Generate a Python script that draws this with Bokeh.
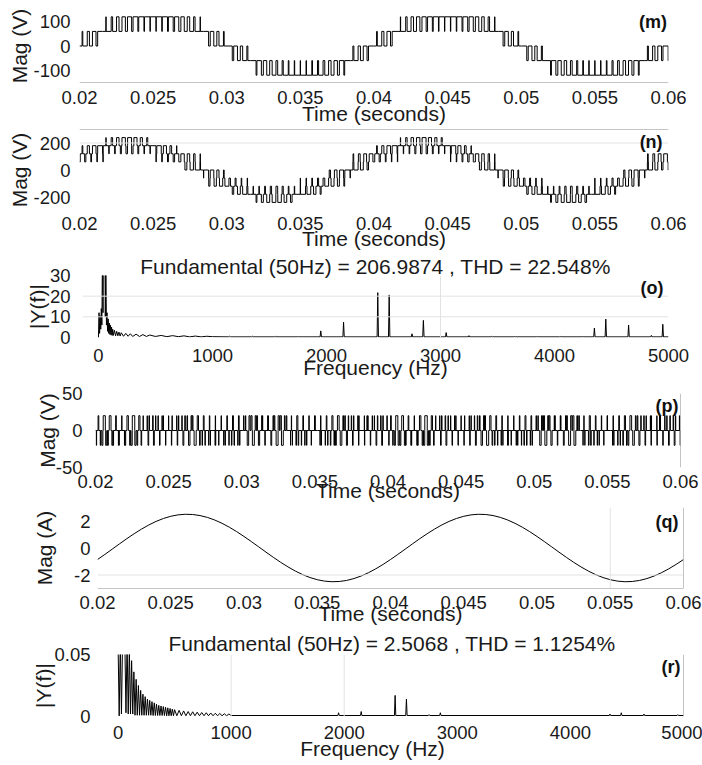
import numpy as np
from bokeh.plotting import figure
from bokeh.layouts import column
from bokeh.models import Span, Label, FixedTicker, Range1d, PrintfTickFormatter
from bokeh.embed import file_html
from bokeh.resources import INLINE

FONT = "Liberation Sans"
TXT = "#1a1a1a"
DARK = "#8a8a8a"
LIGHT = "#e2e2e2"

# ------------------------------------------------------------------ data
time_ticks = [0.02, 0.025, 0.03, 0.035, 0.04, 0.045, 0.05, 0.055, 0.06]
freq_ticks = [0, 1000, 2000, 3000, 4000, 5000]

t_start, t_end = 0.02, 0.06
carrier_period = 0.0004          # 2.5 kHz carrier
cell_voltage = 60.0              # one level step (V)

# per-carrier-period modulation references (in level steps), one 50 Hz cycle
ref_a = [0.122, 0.365, 0.603, 0.830, 1.045, 1.243, 1.422, 1.578, 1.709, 1.813,
         1.889, 1.935, 1.950, 1.935, 1.889, 1.813, 1.709, 1.578, 1.422, 1.243,
         1.045, 0.830, 0.603, 0.365, 0.122, -0.122, -0.365, -0.603, -0.830, -1.045,
         -1.243, -1.422, -1.578, -1.709, -1.813, -1.889, -1.935, -1.950, -1.935, -1.889,
         -1.813, -1.709, -1.578, -1.422, -1.243, -1.045, -0.830, -0.603, -0.365, -0.122]
ref_b = [-1.747, -1.842, -1.907, -1.943, -1.948, -1.923, -1.867, -1.781, -1.668, -1.528,
         -1.364, -1.179, -0.975, -0.756, -0.524, -0.285, -0.041, 0.204, 0.445, 0.680,
         0.903, 1.113, 1.305, 1.476, 1.624, 1.747, 1.842, 1.907, 1.943, 1.948,
         1.923, 1.867, 1.781, 1.668, 1.528, 1.364, 1.179, 0.975, 0.756, 0.524,
         0.285, 0.041, -0.204, -0.445, -0.680, -0.903, -1.113, -1.305, -1.476, -1.624]
ref_c = [1.624, 1.476, 1.305, 1.113, 0.903, 0.680, 0.445, 0.204, -0.041, -0.285,
         -0.524, -0.756, -0.975, -1.179, -1.364, -1.528, -1.668, -1.781, -1.867, -1.923,
         -1.948, -1.943, -1.907, -1.842, -1.747, -1.624, -1.476, -1.305, -1.113, -0.903,
         -0.680, -0.445, -0.204, 0.041, 0.285, 0.524, 0.756, 0.975, 1.179, 1.364,
         1.528, 1.668, 1.781, 1.867, 1.923, 1.948, 1.943, 1.907, 1.842, 1.747]

# load current (A), sampled every 0.5 ms from 0.02 s to 0.06 s
current_a = [-0.855, -0.477, -0.087, 0.305, 0.689, 1.057, 1.398, 1.705, 1.970, 2.187,
             2.349, 2.454, 2.498, 2.481, 2.403, 2.266, 2.073, 1.828, 1.539, 1.212,
             0.855, 0.477, 0.087, -0.305, -0.689, -1.057, -1.398, -1.705, -1.970, -2.187,
             -2.349, -2.454, -2.498, -2.481, -2.403, -2.266, -2.073, -1.828, -1.539, -1.212,
             -0.855, -0.477, -0.087, 0.305, 0.689, 1.057, 1.398, 1.705, 1.970, 2.187,
             2.349, 2.454, 2.498, 2.481, 2.403, 2.266, 2.073, 1.828, 1.539, 1.212,
             0.855, 0.477, 0.087, -0.305, -0.689, -1.057, -1.398, -1.705, -1.970, -2.187,
             -2.349, -2.454, -2.498, -2.481, -2.403, -2.266, -2.073, -1.828, -1.539, -1.212,
             -0.855]
current_t = np.linspace(t_start, t_end, len(current_a))

# voltage spectrum (o): low-frequency region
v_spec_low_f = [0, 5, 10, 15, 20, 25, 30, 35, 40, 45, 50, 55, 60, 65, 70, 75, 80, 85, 90, 95,
                100, 105, 110, 115, 120, 125, 130, 140, 150, 160, 170, 180, 190, 200, 220,
                240, 260, 280, 300, 330, 360, 390, 420, 450, 500, 550, 600, 650, 700, 750,
                800, 850, 900, 950, 1000]
v_spec_low_m = [0, 12.0, 2.0, 10.5, 4.0, 14.0, 6.0, 40.0, 12.0, 60.0, 206.99, 60.0, 10.0, 35.0,
                6.0, 12.0, 3.0, 9.0, 2.0, 7.0, 1.5, 6.0, 1.2, 5.0, 1.0, 4.0, 1.0, 3.5, 0.8,
                3.0, 0.8, 2.6, 0.7, 2.3, 0.6, 2.0, 0.6, 1.8, 0.5, 1.6, 0.5, 1.4, 0.5, 1.2,
                0.5, 1.0, 0.4, 0.9, 0.4, 0.8, 0.3, 0.7, 0.3, 0.6, 0.4]
v_spec_floor = 0.3
v_peak_f = [1150, 1350, 1550, 1750, 1950, 2150, 2450, 2550, 2750, 2850, 3050, 3250, 3450,
            3650, 3850, 4050, 4250, 4350, 4450, 4650, 4850, 4950]
v_peak_m = [0.6, 0.6, 0.6, 0.6, 3.2, 7.4, 21.7, 20.6, 1.8, 8.3, 2.4, 0.9, 0.6,
            0.5, 0.5, 0.5, 0.6, 4.6, 8.9, 6.0, 1.0, 6.4]

# current spectrum (r): low-frequency region
i_spec_low_f = [0, 10, 20, 30, 40, 50, 60, 70, 80, 90, 100, 110, 120, 130, 140, 150, 160, 170,
                180, 190, 200, 210, 220, 230, 240, 250, 260, 270, 280, 290, 300, 310, 320,
                330, 340, 350, 360, 370, 380, 390, 400, 410, 420, 430, 440, 450, 460, 470,
                480, 490, 500, 520, 540, 560, 580, 600, 620, 640, 660, 680, 700, 720, 740,
                760, 780, 800, 820, 840, 860, 880, 900, 920, 940, 960, 980, 1000]
i_spec_low_m = [0.060, 0.0005, 0.060, 0.002, 0.060, 2.5068, 0.060, 0.003, 0.060, 0.002,
                0.055, 0.002, 0.045, 0.002, 0.036, 0.001, 0.030, 0.001, 0.025, 0.001,
                0.021, 0.001, 0.018, 0.001, 0.016, 0.001, 0.014, 0.001, 0.013, 0.001,
                0.012, 0.0008, 0.011, 0.0008, 0.010, 0.0008, 0.009, 0.0008, 0.0085, 0.0008,
                0.008, 0.0008, 0.0075, 0.0006, 0.007, 0.0006, 0.0065, 0.0006, 0.006, 0.0006,
                0.0055, 0.0006, 0.005, 0.0006, 0.0045, 0.0006, 0.004, 0.0006, 0.0038, 0.0006,
                0.0035, 0.0006, 0.0032, 0.0006, 0.003, 0.0006, 0.0028, 0.0006, 0.0026, 0.0006,
                0.0024, 0.0006, 0.0022, 0.0006, 0.002, 0.0008]
i_spec_floor = 0.0008
i_peak_f = [1950, 2150, 2450, 2550, 2750, 2850, 4350, 4450, 4650, 4950]
i_peak_m = [0.003, 0.004, 0.017, 0.014, 0.0015, 0.003, 0.002, 0.003, 0.002, 0.0015]


# ------------------------------------------------------------------ helpers
def switch_times(refs, edge_aligned):
    out = []
    n = int(round((t_end - t_start) / carrier_period))
    for k in range(-2, n + 2):
        r = refs[k % len(refs)]
        f = r - np.floor(r)
        w = (1 - f) if edge_aligned else f
        c = t_start + (k + 0.5) * carrier_period
        out += [c - w * carrier_period / 2, c + w * carrier_period / 2]
    return out


def phase_level(refs, edge_aligned, t):
    u = (t - t_start) / carrier_period
    k = np.floor(u).astype(int)
    pos = u - k
    r = np.asarray(refs)[k % len(refs)]
    b = np.floor(r)
    f = r - b
    if edge_aligned:
        return b + (np.abs(pos - 0.5) > (1 - f) / 2)
    return b + (np.abs(pos - 0.5) < f / 2)


def step_trace(phases, weights):
    times = [t_start, t_end]
    for refs, mode in phases:
        times += switch_times(refs, mode)
    times = np.unique(np.clip(np.array(times), t_start, t_end))
    kept = [times[0]]
    for t in times[1:-1]:
        if t - kept[-1] > 2e-7:
            kept.append(t)
    kept.append(times[-1])
    times = np.array(kept)
    mids = (times[:-1] + times[1:]) / 2
    lev = np.zeros_like(mids)
    for (refs, mode), w in zip(phases, weights):
        lev += w * phase_level(refs, mode, mids)
    xs = np.repeat(times, 2)[1:-1]
    ys = np.repeat(lev, 2)
    return xs, ys


def spectrum_line(low_f, low_m, floor, peak_f, peak_m, hw):
    xs = list(low_f)
    ys = list(low_m)
    for f, m in zip(peak_f, peak_m):
        xs += [f - hw, f, f + hw]
        ys += [floor, m, floor]
    xs.append(5000)
    ys.append(floor)
    return xs, ys


def base_fig(height, left, right, top, bottom, xr, yr, xticks, yticks,
             xs_off, xl_off, ys_off, yl_off, xlabel, ylabel):
    p = figure(width=702, height=height, output_backend="svg", toolbar_location=None,
               x_range=Range1d(*xr), y_range=Range1d(*yr),
               min_border_left=left, min_border_right=right,
               min_border_top=top, min_border_bottom=bottom)
    p.frame_align = False
    p.outline_line_color = None
    p.background_fill_color = "white"
    p.border_fill_color = "white"
    p.xgrid.visible = False
    p.ygrid.visible = False
    for ax, ticks, s, ls, lab in ((p.xaxis[0], xticks, xs_off, xl_off, xlabel),
                                  (p.yaxis[0], yticks, ys_off, yl_off, ylabel)):
        ax.ticker = FixedTicker(ticks=ticks)
        ax.formatter = PrintfTickFormatter(format="%g")
        ax.axis_line_color = None
        ax.major_tick_line_color = None
        ax.minor_tick_line_color = None
        ax.major_tick_in = 0
        ax.major_tick_out = 0
        ax.minor_tick_in = 0
        ax.minor_tick_out = 0
        ax.major_label_standoff = s
        ax.axis_label_standoff = ls
        ax.major_label_text_font = FONT
        ax.major_label_text_font_size = "18.5px"
        ax.major_label_text_color = TXT
        ax.axis_label = lab
        ax.axis_label_text_font = FONT
        ax.axis_label_text_font_size = "21px"
        ax.axis_label_text_font_style = "normal"
        ax.axis_label_text_color = TXT
    return p


def tag(p, x, y, text):
    p.add_layout(Label(x=x, y=y, text=text, text_align="right", text_baseline="middle",
                       text_font=FONT, text_font_size="18px", text_font_style="bold",
                       text_color="#111111"))


def hline(p, y, color):
    p.add_layout(Span(location=y, dimension="width", line_color=color, line_width=1))


def vline(p, x, color):
    p.add_layout(Span(location=x, dimension="height", line_color=color, line_width=1))


def set_title(p, text, standoff, align="center", offset=0):
    p.title.text = text
    p.title.align = align
    p.title.offset = offset
    p.title.text_font = FONT
    p.title.text_font_size = "21px"
    p.title.text_font_style = "normal"
    p.title.text_color = TXT
    p.title.standoff = standoff


phase_a = (ref_a, False)
phase_b = (ref_b, True)
phase_c = (ref_c, False)

# ------------------------------------------------------------------ (m)
pm = base_fig(129, 79, 34, 9, 47, (0.02, 0.06), (-150, 150), time_ticks, [-100, 0, 100],
              8, -5, 9, -1, "Time (seconds)", "Mag (V)")
x, y = step_trace([phase_a], [cell_voltage])
pm.line(x, y, line_color="black", line_width=1)
hline(pm, -150, DARK)
tag(pm, 0.0599, 100, "(m)")

# ------------------------------------------------------------------ (n)
pn = base_fig(125, 79, 34, 0, 44, (0.02, 0.06), (-300, 300), time_ticks, [-200, 0, 200],
              6, -6, 9, -1, "Time (seconds)", "Mag (V)")
hline(pn, 200, LIGHT)
x, y = step_trace([phase_a, phase_b], [cell_voltage, -cell_voltage])
pn.line(x, y, line_color="black", line_width=1)
hline(pn, 300, DARK)
tag(pn, 0.0596, 211, "(n)")

# ------------------------------------------------------------------ (o)
po = base_fig(129, 82, 34, 18, 46, (-140, 5000), (0, 30), freq_ticks, [0, 10, 20, 30],
              11, -9, 12, -2, "Frequency (Hz)", "|Y(f)|")
set_title(po, "Fundamental (50Hz) = 206.9874 , THD = 22.548%", -4)
hline(po, 10, LIGHT)
hline(po, 20, LIGHT)
vline(po, 3000, LIGHT)
x, y = spectrum_line(v_spec_low_f, v_spec_low_m, v_spec_floor, v_peak_f, v_peak_m, 6)
po.line(x, y, line_color="black", line_width=1)
tag(po, 4956, 24, "(o)")

# ------------------------------------------------------------------ (p)
pp = base_fig(123, 95, 22, 10, 39, (0.02, 0.06), (-50, 50), time_ticks, [-50, 0, 50],
              7, -12, 13, -6, "Time (seconds)", "Mag (V)")
x, y = step_trace([phase_a, phase_b, phase_c], [cell_voltage / 3] * 3)
pp.line(x, y, line_color="black", line_width=1)
vline(pp, 0.06, DARK)
tag(pp, 0.05986, 32.5, "(p)")

# ------------------------------------------------------------------ (q)
pq = base_fig(123, 97, 19, 1, 41, (0.02, 0.06), (-3, 3), time_ticks, [-2, 0, 2],
              7, -10, 7, 15, "Time (seconds)", "Mag (A)")
hline(pq, -2, LIGHT)
vline(pq, 0.055, LIGHT)
pq.line(current_t, current_a, line_color="black", line_width=1)
hline(pq, -3, DARK)
vline(pq, 0.06, DARK)
tag(pq, 0.05966, 1.96, "(q)")

# ------------------------------------------------------------------ (r)
pr = base_fig(136, 61, 19, 23, 49, (-500, 5000), (0, 0.05), freq_ticks, [0, 0.05],
              9, -5, -29, -4, "Frequency (Hz)", "|Y(f)|")
set_title(pr, "Fundamental (50Hz) = 2.5068 , THD = 1.1254%", 0, "left", 107)
vline(pr, 1000, LIGHT)
vline(pr, 2000, LIGHT)
x, y = spectrum_line(i_spec_low_f, i_spec_low_m, i_spec_floor, i_peak_f, i_peak_m, 6)
pr.line(x, y, line_color="black", line_width=1)
vline(pr, 5000, DARK)
tag(pr, 4973, 0.0398, "(r)")

layout = column(pm, pn, po, pp, pq, pr, spacing=0)
open("out.html", "w").write(file_html(layout, INLINE))
